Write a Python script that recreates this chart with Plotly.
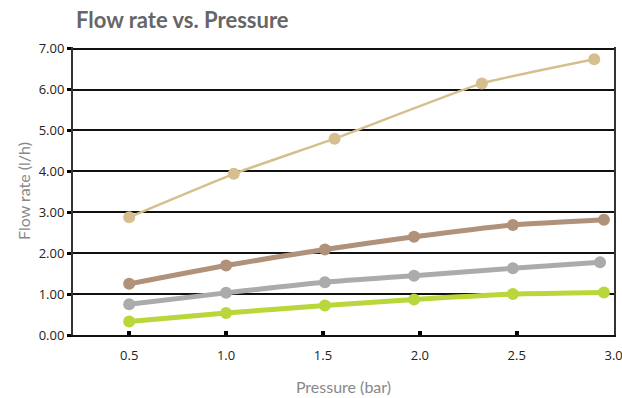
import plotly.graph_objects as go

# Data
tan_x = [0.50, 1.04, 1.56, 2.32, 2.90]
tan_y = [2.88, 3.94, 4.80, 6.15, 6.74]

brown_x = [0.50, 1.00, 1.51, 1.97, 2.48, 2.95]
brown_y = [1.25, 1.70, 2.09, 2.40, 2.69, 2.82]

gray_x = [0.50, 1.00, 1.51, 1.97, 2.48, 2.93]
gray_y = [0.75, 1.03, 1.29, 1.45, 1.63, 1.78]

green_x = [0.50, 1.00, 1.51, 1.97, 2.48, 2.95]
green_y = [0.33, 0.54, 0.72, 0.87, 1.00, 1.04]

x_ticks = [0.5, 1.0, 1.5, 2.0, 2.5, 3.0]
y_ticks = [0, 1, 2, 3, 4, 5, 6, 7]

series = [
    (tan_x, tan_y, "#D5BF8E", 2.5, 0.4),
    (brown_x, brown_y, "#B0917A", 5, 0.6),
    (gray_x, gray_y, "#AAACAB", 5, 0.6),
    (green_x, green_y, "#B9D63B", 5, 0.6),
]

fig = go.Figure()
for xs, ys, col, w, sm in series:
    fig.add_trace(go.Scatter(
        x=xs, y=ys, mode="lines+markers",
        line=dict(color=col, width=w, shape="spline", smoothing=sm),
        marker=dict(color=col, size=12),
        showlegend=False,
    ))

fig.update_layout(
    width=622, height=398,
    margin=dict(l=73, r=8, t=47, b=63),
    paper_bgcolor="white", plot_bgcolor="white",
    title=dict(text="<b>Flow rate vs. Pressure</b>", x=76/622, xanchor="left",
               y=1 - 20/398, yanchor="middle",
               font=dict(family="Lato", size=22, color="#666666")),
    xaxis=dict(
        range=[0.21, 3.002], tickvals=x_ticks, tickformat=".1f",
        showgrid=False, zeroline=False, automargin=False,
        showline=True, linecolor="#111111", linewidth=1.5,
        ticks="inside", ticklen=4, tickwidth=4, tickcolor="#000000",
        ticklabelstandoff=8, ticklabeloverflow="allow",
        tickfont=dict(family="Open Sans", size=13, color="#222222"),
        title=dict(text="Pressure (bar)", standoff=18,
                   font=dict(family="Lato", size=16, color="#888888")),
    ),
    yaxis=dict(
        range=[0, 7.04], tickvals=y_ticks, tickformat=".2f",
        showgrid=True, gridcolor="#111111", gridwidth=1.5,
        zeroline=False, automargin=False,
        showline=True, linecolor="#333333", linewidth=2, mirror=True,
        ticks="outside", ticklen=4, tickwidth=3, tickcolor="#000000",
        ticklabeloverflow="allow",
        tickfont=dict(family="Open Sans", size=13, color="#222222"),
        title=dict(text="Flow rate (l/h)", standoff=4,
                   font=dict(family="Lato", size=16, color="#888888")),
    ),
)

fig.write_html("out.html")
